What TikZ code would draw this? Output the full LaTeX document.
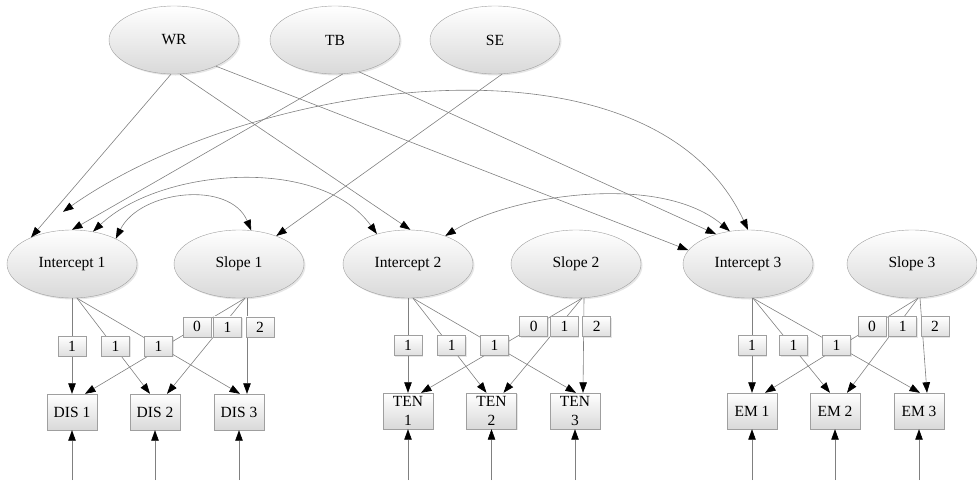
\documentclass[tikz,border=0pt]{standalone}
\usepackage{fontspec}
\setmainfont{Liberation Serif}
\usetikzlibrary{shapes.geometric,arrows.meta,shadows}

\begin{document}
\begin{tikzpicture}[x=1pt,y=-1pt,font=\fontsize{15.5}{18.5}\selectfont,
  latent/.style={ellipse,draw=gray!75,top color=white,bottom color=gray!30,minimum width=130pt,minimum height=68pt,inner sep=0pt,
    drop shadow={opacity=.2,shadow xshift=1.5pt,shadow yshift=-1.5pt}},
  obs/.style={rectangle,draw=gray!75,top color=white,bottom color=gray!30,minimum width=50pt,minimum height=36pt,inner sep=1pt,align=center,
    drop shadow={opacity=.2,shadow xshift=1pt,shadow yshift=-1pt}},
  wt/.style={rectangle,draw=gray!75,top color=white,bottom color=gray!25,minimum width=28pt,minimum height=20pt,inner sep=0pt,
    drop shadow={opacity=.2,shadow xshift=1pt,shadow yshift=-1pt}},
  reg/.style={draw=gray,line width=.6pt,-{Triangle[length=10.5pt,width=7.5pt,black]}},
  cov/.style={draw=gray,line width=.6pt,{Triangle[length=10.5pt,width=7.5pt,black]}-{Triangle[length=10.5pt,width=7.5pt,black]}}]
  \useasboundingbox (0,0) rectangle (977,480);

  % predictors
  \node[latent] (wr) at (174,40) {WR};
  \node[latent] (tb) at (335,40) {TB};
  \node[latent] (se) at (495,40) {SE};

  % growth factors
  \node[latent] (i1) at (72,264) {Intercept 1};
  \node[latent] (s1) at (239,264) {Slope 1};
  \node[latent] (i2) at (408,264) {Intercept 2};
  \node[latent] (s2) at (576,264) {Slope 2};
  \node[latent] (i3) at (748,264) {Intercept 3};
  \node[latent] (s3) at (912,264) {Slope 3};

  % indicators
  \node[obs] (d1) at (72,412) {DIS 1};
  \node[obs] (d2) at (155,412) {DIS 2};
  \node[obs] (d3) at (239,412) {DIS 3};
  \node[obs] (t1) at (408,411) {TEN\\1};
  \node[obs] (t2) at (491.5,411) {TEN\\2};
  \node[obs] (t3) at (575,411) {TEN\\3};
  \node[obs] (e1) at (752,411) {EM 1};
  \node[obs] (e2) at (835,411) {EM 2};
  \node[obs] (e3) at (919,411) {EM 3};

  % regressions
  \draw[reg] (wr.265) -- (i1.147);
  \draw[reg] (wr.280) -- (i2.86);
  \draw[reg] (wr.328) -- (i3.167);
  \draw[reg] (tb.283) -- (i1.90);
  \draw[reg] (tb.307) -- (i3.137);
  \draw[reg] (se.282) -- (s1.37);

  % covariances
  \draw[cov] (i1.30) .. controls (140,190) and (230,180) .. (s1.70);
  \draw[cov] (i1.57) .. controls (160,168) and (320,155) .. (i2.136);
  \draw[cov] (i2.37) .. controls (510,195) and (660,172) .. (i3.119);
  \draw[cov] ([xshift=-9pt,yshift=18pt]i1.north) .. controls (250,80) and (650,20) .. (i3.90);

  % DIS
  \draw[reg] ([xshift=6pt]s1.south) -- ([xshift=13pt]d1.north) node[wt,pos=.3] {0};
  \draw[reg] ([xshift=6pt]s1.south) -- ([xshift=12pt]d2.north) node[wt,pos=.3,xshift=6pt] {1};
  \draw[reg] ([xshift=8pt]s1.south) -- ([xshift=8pt]d3.north) node[wt,pos=.3,xshift=13pt] {2};
  \draw[reg] (i1.south) -- (d1.north) node[wt,pos=.5] {1};
  \draw[reg] ([xshift=5pt]i1.south) -- ([xshift=-5pt]d2.north) node[wt,pos=.5,xshift=2pt] {1};
  \draw[reg] ([xshift=5pt]i1.south) -- ([xshift=1pt]d3.north) node[wt,pos=.5] {1};

  % TEN
  \draw[reg] ([xshift=6pt]s2.south) -- ([xshift=13pt]t1.north) node[wt,pos=.3] {0};
  \draw[reg] ([xshift=6pt]s2.south) -- ([xshift=12pt]t2.north) node[wt,pos=.3,xshift=6pt] {1};
  \draw[reg] ([xshift=8pt]s2.south) -- ([xshift=8pt]t3.north) node[wt,pos=.3,xshift=13pt] {2};
  \draw[reg] (i2.south) -- (t1.north) node[wt,pos=.5] {1};
  \draw[reg] ([xshift=5pt]i2.south) -- ([xshift=-5pt]t2.north) node[wt,pos=.5,xshift=2pt] {1};
  \draw[reg] ([xshift=5pt]i2.south) -- ([xshift=1pt]t3.north) node[wt,pos=.5] {1};

  % EM
  \draw[reg] ([xshift=6pt]s3.south) -- ([xshift=13pt]e1.north) node[wt,pos=.3] {0};
  \draw[reg] ([xshift=6pt]s3.south) -- ([xshift=12pt]e2.north) node[wt,pos=.3,xshift=6pt] {1};
  \draw[reg] ([xshift=8pt]s3.south) -- ([xshift=8pt]e3.north) node[wt,pos=.3,xshift=13pt] {2};
  \draw[reg] ([xshift=4pt]i3.south) -- (e1.north) node[wt,pos=.5] {1};
  \draw[reg] ([xshift=5pt]i3.south) -- ([xshift=-5pt]e2.north) node[wt,pos=.5,xshift=2pt] {1};
  \draw[reg] ([xshift=5pt]i3.south) -- ([xshift=1pt]e3.north) node[wt,pos=.5] {1};

  % residuals
  \draw[reg] ([yshift=-50pt]d1.south) -- (d1.south);
  \draw[reg] ([yshift=-50pt]d2.south) -- (d2.south);
  \draw[reg] ([yshift=-50pt]d3.south) -- (d3.south);
  \draw[reg] ([yshift=-51pt]t1.south) -- (t1.south);
  \draw[reg] ([yshift=-51pt]t2.south) -- (t2.south);
  \draw[reg] ([yshift=-51pt]t3.south) -- (t3.south);
  \draw[reg] ([yshift=-51pt]e1.south) -- (e1.south);
  \draw[reg] ([yshift=-51pt]e2.south) -- (e2.south);
  \draw[reg] ([yshift=-51pt]e3.south) -- (e3.south);
\end{tikzpicture}
\end{document}
